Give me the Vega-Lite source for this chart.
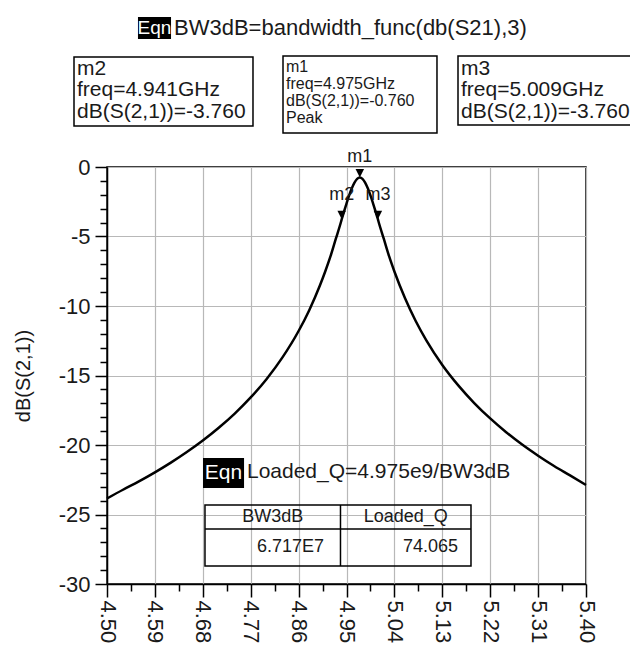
{
  "$schema": "https://vega.github.io/schema/vega-lite/v6.json",
  "width": 479,
  "height": 417,
  "autosize": {"type": "none"},
  "padding": {"left": 107, "top": 167, "right": 44, "bottom": 63},
  "background": "white",
  "config": {
    "font": "Liberation Sans",
    "view": {"stroke": "black", "strokeWidth": 1.5},
    "text": {"color": "#1a1a1a"}
  },
  "datasets": {
    "s21": [
      {"f": 4.50, "db": -23.85}, {"f": 4.53, "db": -23.22}, {"f": 4.56, "db": -22.62},
      {"f": 4.59, "db": -21.97}, {"f": 4.62, "db": -21.27}, {"f": 4.65, "db": -20.51},
      {"f": 4.68, "db": -19.68}, {"f": 4.71, "db": -18.76}, {"f": 4.74, "db": -17.74},
      {"f": 4.77, "db": -16.58}, {"f": 4.80, "db": -15.25}, {"f": 4.83, "db": -13.68},
      {"f": 4.86, "db": -11.80}, {"f": 4.88, "db": -10.30}, {"f": 4.90, "db": -8.53},
      {"f": 4.91, "db": -7.52}, {"f": 4.92, "db": -6.42}, {"f": 4.93, "db": -5.16},
      {"f": 4.94, "db": -3.90}, {"f": 4.941, "db": -3.76}, {"f": 4.945, "db": -3.25},
      {"f": 4.95, "db": -2.63}, {"f": 4.955, "db": -2.04}, {"f": 4.96, "db": -1.53},
      {"f": 4.965, "db": -1.12}, {"f": 4.97, "db": -0.85}, {"f": 4.975, "db": -0.76},
      {"f": 4.98, "db": -0.85}, {"f": 4.985, "db": -1.12}, {"f": 4.99, "db": -1.53},
      {"f": 4.995, "db": -2.04}, {"f": 5.00, "db": -2.63}, {"f": 5.005, "db": -3.25},
      {"f": 5.009, "db": -3.76}, {"f": 5.01, "db": -3.90}, {"f": 5.02, "db": -5.16},
      {"f": 5.03, "db": -6.42}, {"f": 5.04, "db": -7.52}, {"f": 5.06, "db": -9.45},
      {"f": 5.08, "db": -11.08}, {"f": 5.10, "db": -12.47}, {"f": 5.13, "db": -14.24},
      {"f": 5.16, "db": -15.71}, {"f": 5.19, "db": -16.98}, {"f": 5.22, "db": -18.09},
      {"f": 5.25, "db": -19.08}, {"f": 5.28, "db": -19.97}, {"f": 5.31, "db": -20.77},
      {"f": 5.34, "db": -21.51}, {"f": 5.37, "db": -22.19}, {"f": 5.40, "db": -22.88}
    ],
    "markers": [
      {"name": "m1", "freq": 4.975, "db": -0.76},
      {"name": "m2", "freq": 4.941, "db": -3.76},
      {"name": "m3", "freq": 5.009, "db": -3.76}
    ],
    "one": [{}]
  },
  "resolve": {"axis": {"x": "independent", "y": "independent"}},
  "layer": [
    {
      "data": {"name": "s21"},
      "mark": {"type": "line", "color": "black", "strokeWidth": 2.5, "interpolate": "monotone"},
      "encoding": {
        "x": {
          "field": "f", "type": "quantitative",
          "scale": {"domain": [4.5, 5.4], "nice": false, "zero": false},
          "axis": {
            "orient": "bottom", "title": null,
            "values": [4.5, 4.59, 4.68, 4.77, 4.86, 4.95, 5.04, 5.13, 5.22, 5.31, 5.4],
            "labelExpr": "format(datum.value, '.2f')",
            "labelAngle": 90, "labelFontSize": 22, "labelColor": "#1a1a1a",
            "labelPadding": 3, "labelOverlap": false, "labelFlush": false, "labelBound": false,
            "tickSize": 13, "tickColor": "black", "tickWidth": 1.5,
            "domainColor": "black", "domainWidth": 1.5,
            "grid": true, "gridColor": "#b8b8b8", "gridWidth": 1.2
          }
        },
        "y": {
          "field": "db", "type": "quantitative",
          "scale": {"domain": [-30, 0], "nice": false, "zero": false},
          "axis": {
            "orient": "left", "title": "dB(S(2,1))",
            "titleFontSize": 20, "titleFontWeight": "normal", "titleColor": "#1a1a1a", "titlePadding": 25,
            "values": [-30, -25, -20, -15, -10, -5, 0],
            "labelExpr": "'' + datum.value",
            "labelFontSize": 22, "labelColor": "#1a1a1a", "labelPadding": 5,
            "labelOverlap": false, "labelFlush": false, "labelBound": false,
            "tickSize": 12, "tickColor": "black", "tickWidth": 1.5,
            "domainColor": "black", "domainWidth": 1.5,
            "grid": true, "gridColor": "#b8b8b8", "gridWidth": 1.2
          }
        }
      }
    },
    {
      "data": {"name": "markers"},
      "mark": {"type": "point", "shape": "M-1,-2L1,-2L0,0Z", "size": 72, "filled": true, "color": "black", "opacity": 1},
      "encoding": {
        "x": {
          "field": "freq", "type": "quantitative",
          "scale": {"domain": [4.5, 5.4], "nice": false, "zero": false},
          "axis": {
            "orient": "bottom", "title": null, "labels": false, "grid": false, "domain": false,
            "values": [4.545, 4.635, 4.725, 4.815, 4.905, 4.995, 5.085, 5.175, 5.265, 5.355],
            "tickSize": 7, "tickColor": "black", "tickWidth": 1.5
          }
        },
        "y": {
          "field": "db", "type": "quantitative",
          "scale": {"domain": [-30, 0], "nice": false, "zero": false},
          "axis": {
            "orient": "left", "title": null, "labels": false, "grid": false, "domain": false,
            "values": [-29, -28, -27, -26, -24, -23, -22, -21, -19, -18, -17, -16, -14, -13, -12, -11, -9, -8, -7, -6, -4, -3, -2, -1],
            "tickSize": 7, "tickColor": "black", "tickWidth": 1.5
          }
        }
      }
    },
    {
      "data": {"name": "markers"},
      "transform": [{"filter": "datum.name === 'm1'"}],
      "mark": {"type": "text", "fontSize": 18, "align": "center", "baseline": "alphabetic", "dy": -16},
      "encoding": {
        "x": {"field": "freq", "type": "quantitative", "axis": null},
        "y": {"field": "db", "type": "quantitative", "axis": null},
        "text": {"field": "name"}
      }
    },
    {
      "data": {"name": "markers"},
      "transform": [{"filter": "datum.name !== 'm1'"}],
      "mark": {"type": "text", "fontSize": 18, "align": "center", "baseline": "alphabetic", "dy": -19},
      "encoding": {
        "x": {"field": "freq", "type": "quantitative", "axis": null},
        "y": {"field": "db", "type": "quantitative", "axis": null},
        "text": {"field": "name"}
      }
    },
    {
      "data": {"name": "one"},
      "mark": {"type": "rect", "color": "black"},
      "encoding": {
        "x": {"datum": 4.5582, "type": "quantitative", "axis": null},
        "x2": {"datum": 4.6203},
        "y": {"datum": 10.79, "type": "quantitative", "axis": null},
        "y2": {"datum": 9.21}
      }
    },
    {
      "data": {"name": "one"},
      "mark": {"type": "text", "text": "Eqn", "color": "white", "fontSize": 19, "align": "center", "baseline": "middle"},
      "encoding": {
        "x": {"datum": 4.5892, "type": "quantitative", "axis": null},
        "y": {"datum": 10.0, "type": "quantitative", "axis": null}
      }
    },
    {
      "data": {"name": "one"},
      "mark": {"type": "text", "text": "BW3dB=bandwidth_func(db(S21),3)", "fontSize": 22, "align": "left", "baseline": "middle"},
      "encoding": {
        "x": {"datum": 4.6259, "type": "quantitative", "axis": null},
        "y": {"datum": 10.0, "type": "quantitative", "axis": null}
      }
    },
    {
      "data": {"name": "one"},
      "mark": {"type": "rect", "filled": false, "stroke": "black", "strokeWidth": 1.5},
      "encoding": {
        "x": {"datum": 4.438, "type": "quantitative", "axis": null},
        "x2": {"datum": 4.7743},
        "y": {"datum": 7.914, "type": "quantitative", "axis": null},
        "y2": {"datum": 2.95}
      }
    },
    {
      "data": {"name": "one"},
      "mark": {"type": "text", "text": ["m2", "freq=4.941GHz", "dB(S(2,1))=-3.760"], "fontSize": 21, "lineHeight": 21.5, "align": "left", "baseline": "alphabetic"},
      "encoding": {
        "x": {"datum": 4.4436, "type": "quantitative", "axis": null},
        "y": {"datum": 6.62, "type": "quantitative", "axis": null}
      }
    },
    {
      "data": {"name": "one"},
      "mark": {"type": "rect", "filled": false, "stroke": "black", "strokeWidth": 1.5},
      "encoding": {
        "x": {"datum": 4.8307, "type": "quantitative", "axis": null},
        "x2": {"datum": 5.12},
        "y": {"datum": 7.986, "type": "quantitative", "axis": null},
        "y2": {"datum": 2.446}
      }
    },
    {
      "data": {"name": "one"},
      "mark": {"type": "text", "text": ["m1", "freq=4.975GHz", "dB(S(2,1))=-0.760", "Peak"], "fontSize": 16, "lineHeight": 17, "align": "left", "baseline": "alphabetic"},
      "encoding": {
        "x": {"datum": 4.8363, "type": "quantitative", "axis": null},
        "y": {"datum": 6.835, "type": "quantitative", "axis": null}
      }
    },
    {
      "data": {"name": "one"},
      "mark": {"type": "rect", "filled": false, "stroke": "black", "strokeWidth": 1.5},
      "encoding": {
        "x": {"datum": 5.1595, "type": "quantitative", "axis": null},
        "x2": {"datum": 5.5015},
        "y": {"datum": 7.986, "type": "quantitative", "axis": null},
        "y2": {"datum": 3.022}
      }
    },
    {
      "data": {"name": "one"},
      "mark": {"type": "text", "text": ["m3", "freq=5.009GHz", "dB(S(2,1))=-3.760"], "fontSize": 21, "lineHeight": 21.5, "align": "left", "baseline": "alphabetic"},
      "encoding": {
        "x": {"datum": 5.1651, "type": "quantitative", "axis": null},
        "y": {"datum": 6.62, "type": "quantitative", "axis": null}
      }
    },
    {
      "data": {"name": "one"},
      "mark": {"type": "rect", "color": "black"},
      "encoding": {
        "x": {"datum": 4.6804, "type": "quantitative", "axis": null},
        "x2": {"datum": 4.7575},
        "y": {"datum": -20.935, "type": "quantitative", "axis": null},
        "y2": {"datum": -23.094}
      }
    },
    {
      "data": {"name": "one"},
      "mark": {"type": "text", "text": "Eqn", "color": "white", "fontSize": 21, "align": "center", "baseline": "middle"},
      "encoding": {
        "x": {"datum": 4.7189, "type": "quantitative", "axis": null},
        "y": {"datum": -22.0, "type": "quantitative", "axis": null}
      }
    },
    {
      "data": {"name": "one"},
      "mark": {"type": "text", "text": "Loaded_Q=4.975e9/BW3dB", "fontSize": 21, "align": "left", "baseline": "middle"},
      "encoding": {
        "x": {"datum": 4.763, "type": "quantitative", "axis": null},
        "y": {"datum": -21.94, "type": "quantitative", "axis": null}
      }
    },
    {
      "data": {"name": "one"},
      "mark": {"type": "rect", "filled": false, "stroke": "black", "strokeWidth": 1.5},
      "encoding": {
        "x": {"datum": 4.6841, "type": "quantitative", "axis": null},
        "x2": {"datum": 5.1839},
        "y": {"datum": -24.317, "type": "quantitative", "axis": null},
        "y2": {"datum": -28.705}
      }
    },
    {
      "data": {"name": "one"},
      "mark": {"type": "rule", "color": "black", "strokeWidth": 1.5},
      "encoding": {
        "x": {"datum": 4.6841, "type": "quantitative", "axis": null},
        "x2": {"datum": 5.1839},
        "y": {"datum": -26.043, "type": "quantitative", "axis": null}
      }
    },
    {
      "data": {"name": "one"},
      "mark": {"type": "rule", "color": "black", "strokeWidth": 1.5},
      "encoding": {
        "x": {"datum": 4.9387, "type": "quantitative", "axis": null},
        "y": {"datum": -24.317, "type": "quantitative", "axis": null},
        "y2": {"datum": -28.705}
      }
    },
    {
      "data": {"name": "one"},
      "mark": {"type": "text", "text": "BW3dB", "fontSize": 18, "align": "center", "baseline": "middle"},
      "encoding": {
        "x": {"datum": 4.8113, "type": "quantitative", "axis": null},
        "y": {"datum": -25.18, "type": "quantitative", "axis": null}
      }
    },
    {
      "data": {"name": "one"},
      "mark": {"type": "text", "text": "Loaded_Q", "fontSize": 18, "align": "center", "baseline": "middle"},
      "encoding": {
        "x": {"datum": 5.0612, "type": "quantitative", "axis": null},
        "y": {"datum": -25.18, "type": "quantitative", "axis": null}
      }
    },
    {
      "data": {"name": "one"},
      "mark": {"type": "text", "text": "6.717E7", "fontSize": 18, "align": "right", "baseline": "middle"},
      "encoding": {
        "x": {"datum": 4.9077, "type": "quantitative", "axis": null},
        "y": {"datum": -27.338, "type": "quantitative", "axis": null}
      }
    },
    {
      "data": {"name": "one"},
      "mark": {"type": "text", "text": "74.065", "fontSize": 18, "align": "right", "baseline": "middle"},
      "encoding": {
        "x": {"datum": 5.1595, "type": "quantitative", "axis": null},
        "y": {"datum": -27.338, "type": "quantitative", "axis": null}
      }
    }
  ]
}
